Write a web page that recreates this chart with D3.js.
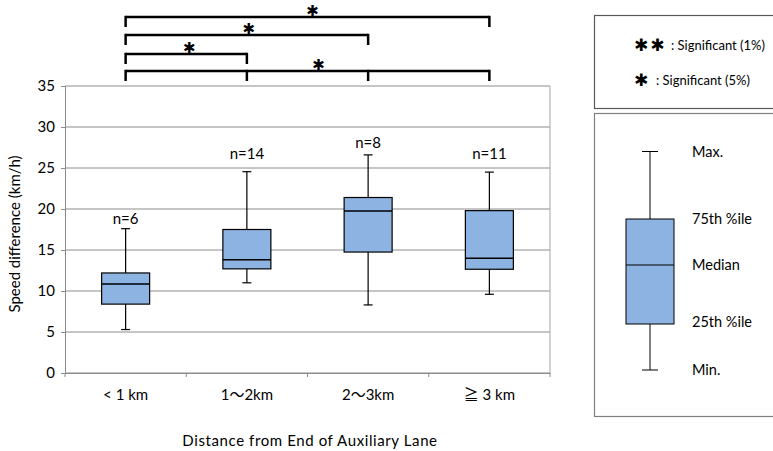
<!DOCTYPE html>
<html>
<head>
<meta charset="utf-8">
<script src="https://cdn.jsdelivr.net/npm/d3@7"></script>
<style>
  body { margin: 0; background: #fff; }
  text { font-family: Lato, "Noto Sans", sans-serif; fill: #000; }
</style>
</head>
<body>
<div id="chart"></div>
<script>
// categories and box statistics (km/h)
var categories = ["< 1 km", "1\u301c2km", "2\u301c3km", "\u2267 3 km"];
var counts = [6, 14, 8, 11];
var minVals = [5.3, 11.0, 8.3, 9.6];
var q1Vals = [8.4, 12.7, 14.75, 12.65];
var medVals = [10.85, 13.8, 19.75, 14.0];
var q3Vals = [12.2, 17.5, 21.4, 19.8];
var maxVals = [17.6, 24.55, 26.6, 24.5];
var labelVals = [18.6, 26.6, 27.9, 26.6];
var yTicks = [0, 5, 10, 15, 20, 25, 30, 35];

// significance brackets: category indices joined, and the level
var brackets = [
  { from: 0, to: [3], level: 0 },
  { from: 0, to: [2], level: 1 },
  { from: 0, to: [1], level: 2 },
  { from: 0, to: [1, 2, 3], level: 3 }
];

var STAR = "\u2731";
var starFont = "'DejaVu Sans', sans-serif";

var width = 773, height = 451;
var svg = d3.select("#chart").append("svg")
  .attr("width", width)
  .attr("height", height);

var x = d3.scaleBand().domain(categories).range([65, 550]);
var y = d3.scaleLinear().domain([0, 35]).range([373, 86]);

// grid
svg.selectAll(".grid").data(yTicks).enter().append("line")
  .attr("x1", 65).attr("x2", 550)
  .attr("y1", function(d) { return y(d); })
  .attr("y2", function(d) { return y(d); })
  .attr("stroke", "#8c8c8c").attr("stroke-width", 1);
svg.append("line").attr("x1", 550).attr("x2", 550)
  .attr("y1", y(35)).attr("y2", y(0))
  .attr("stroke", "#a6a6a6");

// axes
var yAxis = svg.append("g").attr("transform", "translate(65,0)")
  .call(d3.axisLeft(y).tickValues(yTicks).tickSize(4).tickPadding(6));
var xAxis = svg.append("g").attr("transform", "translate(0,373)")
  .call(d3.axisBottom(x).tickSize(0).tickPadding(16));
xAxis.selectAll(".tick line").remove();
svg.selectAll(".xtick").data(d3.range(categories.length + 1)).enter().append("line")
  .attr("x1", function(i) { return 65 + i * x.step(); })
  .attr("x2", function(i) { return 65 + i * x.step(); })
  .attr("y1", 373).attr("y2", 377)
  .attr("stroke", "#8c8c8c");
[yAxis, xAxis].forEach(function(a) {
  a.select(".domain").attr("stroke", "#8c8c8c");
  a.selectAll(".tick line").attr("stroke", "#8c8c8c");
  a.selectAll("text").style("font-size", "15px")
    .style("font-family", "Lato, 'Noto Sans CJK JP', sans-serif").attr("fill", "#000");
});

// boxes
var boxW = 48, capW = 9;
var bx = function(i) { return x(categories[i]) + x.bandwidth() / 2; };
var box = svg.selectAll(".box").data(categories).enter().append("g");
box.append("line")
  .attr("x1", function(d, i) { return bx(i); }).attr("x2", function(d, i) { return bx(i); })
  .attr("y1", function(d, i) { return y(maxVals[i]); })
  .attr("y2", function(d, i) { return y(minVals[i]); })
  .attr("stroke", "#000").attr("stroke-width", 1.2);
box.append("line")
  .attr("x1", function(d, i) { return bx(i) - capW / 2; }).attr("x2", function(d, i) { return bx(i) + capW / 2; })
  .attr("y1", function(d, i) { return y(maxVals[i]); }).attr("y2", function(d, i) { return y(maxVals[i]); })
  .attr("stroke", "#000").attr("stroke-width", 1.2);
box.append("line")
  .attr("x1", function(d, i) { return bx(i) - capW / 2; }).attr("x2", function(d, i) { return bx(i) + capW / 2; })
  .attr("y1", function(d, i) { return y(minVals[i]); }).attr("y2", function(d, i) { return y(minVals[i]); })
  .attr("stroke", "#000").attr("stroke-width", 1.2);
box.append("rect")
  .attr("x", function(d, i) { return bx(i) - boxW / 2; })
  .attr("y", function(d, i) { return y(q3Vals[i]); })
  .attr("width", boxW)
  .attr("height", function(d, i) { return y(q1Vals[i]) - y(q3Vals[i]); })
  .attr("fill", "#8db3e2").attr("stroke", "#000").attr("stroke-width", 1.2);
box.append("line")
  .attr("x1", function(d, i) { return bx(i) - boxW / 2; }).attr("x2", function(d, i) { return bx(i) + boxW / 2; })
  .attr("y1", function(d, i) { return y(medVals[i]); }).attr("y2", function(d, i) { return y(medVals[i]); })
  .attr("stroke", "#000").attr("stroke-width", 1.5);
box.append("text")
  .attr("x", function(d, i) { return bx(i); })
  .attr("y", function(d, i) { return y(labelVals[i]); })
  .attr("text-anchor", "middle").attr("dominant-baseline", "middle")
  .style("font-size", "15px")
  .text(function(d, i) { return "n=" + counts[i]; });

// significance brackets
var levelY = [17, 35, 54, 71];
var starDx = [5, 2, 3, 11];
brackets.forEach(function(b) {
  var yy = levelY[b.level];
  var x0 = bx(b.from), x1 = bx(b.to[b.to.length - 1]);
  var g = svg.append("g");
  g.append("line").attr("x1", x0).attr("x2", x1).attr("y1", yy).attr("y2", yy)
    .attr("stroke", "#000").attr("stroke-width", 2.5);
  [b.from].concat(b.to).forEach(function(i) {
    g.append("line").attr("x1", bx(i)).attr("x2", bx(i))
      .attr("y1", yy - 1.2).attr("y2", yy + 10)
      .attr("stroke", "#000").attr("stroke-width", 2.5);
  });
  g.append("text").attr("x", (x0 + x1) / 2 + starDx[b.level]).attr("y", yy - 6)
    .attr("text-anchor", "middle").attr("dominant-baseline", "middle")
    .style("font-family", starFont)
    .style("font-size", "15px")
    .text(STAR);
});

// axis titles
svg.append("text")
  .attr("transform", "translate(20,234) rotate(-90)")
  .attr("text-anchor", "middle").style("font-size", "15px")
  .text("Speed difference (km/h)");
svg.append("text")
  .attr("x", 310).attr("y", 446)
  .attr("text-anchor", "middle").style("font-size", "15px")
  .style("letter-spacing", "0.6px")
  .text("Distance from End of Auxiliary Lane");

// legend: significance
svg.append("rect").attr("x", 594.5).attr("y", 15.5).attr("width", 190).attr("height", 93)
  .attr("fill", "none").attr("stroke", "#595959").attr("stroke-width", 1.2);
var sigRows = [{ mark: STAR + STAR, label: ": Significant (1%)", y: 46, tx: 671 },
               { mark: STAR, label: ": Significant (5%)", y: 81, tx: 656 }];
sigRows.forEach(function(r) {
  svg.append("text").attr("x", 634).attr("y", r.y)
    .attr("dominant-baseline", "middle")
    .style("font-family", starFont)
    .style("font-size", "17px")
    .style("letter-spacing", "2px")
    .text(r.mark);
  svg.append("text").attr("x", r.tx).attr("y", r.y + 1)
    .attr("dominant-baseline", "middle")
    .style("font-size", "13px").text(r.label);
});

// legend: box explanation
svg.append("rect").attr("x", 594.5).attr("y", 113.5).attr("width", 190).attr("height", 303)
  .attr("fill", "none").attr("stroke", "#808080").attr("stroke-width", 1.2);
var lg = { cx: 650, max: 151.5, q3: 219, med: 265, q1: 324, min: 370 };
svg.append("line").attr("x1", lg.cx).attr("x2", lg.cx).attr("y1", lg.max).attr("y2", lg.min)
  .attr("stroke", "#000");
[lg.max, lg.min].forEach(function(v) {
  svg.append("line").attr("x1", lg.cx - 8).attr("x2", lg.cx + 8).attr("y1", v).attr("y2", v)
    .attr("stroke", "#000");
});
svg.append("rect").attr("x", lg.cx - 24).attr("y", lg.q3).attr("width", 48).attr("height", lg.q1 - lg.q3)
  .attr("fill", "#8db3e2").attr("stroke", "#000");
svg.append("line").attr("x1", lg.cx - 24).attr("x2", lg.cx + 24).attr("y1", lg.med).attr("y2", lg.med)
  .attr("stroke", "#000");
[["Max.", lg.max + 2], ["75th %ile", lg.q3 + 1], ["Median", lg.med + 1], ["25th %ile", lg.q1 - 1], ["Min.", lg.min + 1]]
  .forEach(function(t) {
    svg.append("text").attr("x", 692).attr("y", t[1]).attr("dominant-baseline", "middle")
      .style("font-size", "14.5px").text(t[0]);
  });
</script>
</body>
</html>
